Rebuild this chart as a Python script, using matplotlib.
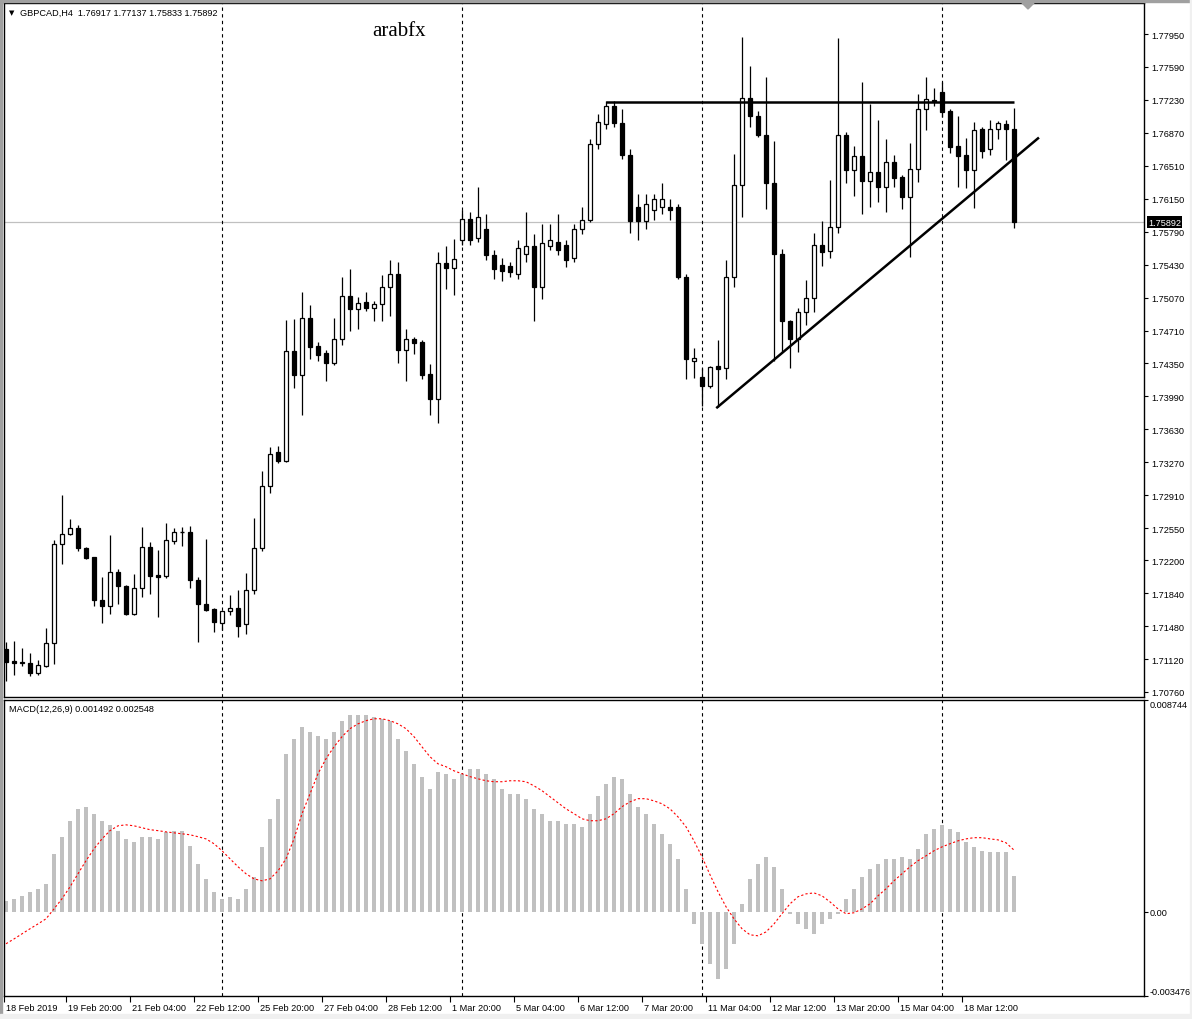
import matplotlib
matplotlib.use('Agg')
import matplotlib.pyplot as plt
from matplotlib.patches import Rectangle, Polygon
import matplotlib.transforms as mtransforms

# ---- data (H4 candles, GBPCAD) ----
opens = [1.7123, 1.7110, 1.7108, 1.7108, 1.7097, 1.7104, 1.7129, 1.7238, 1.7249, 1.7255,
         1.7233, 1.7223, 1.7177, 1.7170, 1.7207, 1.7192, 1.7161, 1.7190, 1.7234, 1.7204,
         1.7203, 1.7241, 1.7251, 1.7251, 1.7198, 1.7172, 1.7167, 1.7151, 1.7165, 1.7168,
         1.7150, 1.7187, 1.7233, 1.7301, 1.7338, 1.7328, 1.7449, 1.7422, 1.7485, 1.7454,
         1.7446, 1.7435, 1.7462, 1.7509, 1.7495, 1.7502, 1.7496, 1.7500, 1.7519, 1.7533,
         1.7450, 1.7462, 1.7458, 1.7423, 1.7396, 1.7545, 1.7539, 1.7570, 1.7593, 1.7572,
         1.7582, 1.7554, 1.7543, 1.7541, 1.7533, 1.7555, 1.7563, 1.7519, 1.7563, 1.7568,
         1.7564, 1.7550, 1.7582, 1.7592, 1.7675, 1.7697, 1.7716, 1.7698, 1.7663, 1.7606,
         1.7591, 1.7603, 1.7606, 1.7606, 1.7606, 1.7530, 1.7438, 1.7420, 1.7410, 1.7432,
         1.7430, 1.7529, 1.7630, 1.7725, 1.7705, 1.7685, 1.7632, 1.7555, 1.7481, 1.7462,
         1.7491, 1.7507, 1.7564, 1.7558, 1.7584, 1.7685, 1.7646, 1.7662, 1.7634, 1.7644,
         1.7628, 1.7655, 1.7639, 1.7617, 1.7647, 1.7713, 1.7723, 1.7732, 1.7711, 1.7673,
         1.7663, 1.7646, 1.7691, 1.7669, 1.7691, 1.7697, 1.76917]
highs = [1.7131, 1.7132, 1.7124, 1.7119, 1.7111, 1.7146, 1.7242, 1.7291, 1.7265, 1.7259,
         1.7234, 1.7224, 1.7202, 1.7247, 1.7210, 1.7193, 1.7205, 1.7256, 1.7240, 1.7231,
         1.7261, 1.7255, 1.7256, 1.7257, 1.7202, 1.7243, 1.7168, 1.7165, 1.7182, 1.7187,
         1.7206, 1.7266, 1.7318, 1.7344, 1.7345, 1.7482, 1.7484, 1.7513, 1.7499, 1.7458,
         1.7450, 1.7485, 1.7529, 1.7538, 1.7508, 1.7513, 1.7503, 1.7532, 1.7548, 1.7546,
         1.7473, 1.7464, 1.7461, 1.7434, 1.7557, 1.7563, 1.7571, 1.7603, 1.7600, 1.7628,
         1.7598, 1.7559, 1.7550, 1.7546, 1.7570, 1.7600, 1.7576, 1.7587, 1.7587, 1.7598,
         1.7570, 1.7587, 1.7606, 1.7680, 1.7708, 1.7722, 1.7722, 1.7713, 1.7669, 1.7620,
         1.7620, 1.7620, 1.7632, 1.7615, 1.7609, 1.7533, 1.7452, 1.7430, 1.7432, 1.7461,
         1.7548, 1.7664, 1.7792, 1.7760, 1.7711, 1.7748, 1.7678, 1.7560, 1.7482, 1.7496,
         1.7526, 1.7578, 1.7591, 1.7636, 1.7791, 1.7688, 1.7673, 1.7743, 1.7718, 1.7701,
         1.7680, 1.7663, 1.7641, 1.7676, 1.7730, 1.7748, 1.7736, 1.7743, 1.7713, 1.7705,
         1.7681, 1.7699, 1.7693, 1.7701, 1.7700, 1.7701, 1.77137]
lows = [1.7088, 1.7095, 1.7104, 1.7093, 1.7095, 1.7103, 1.7107, 1.7216, 1.7247, 1.7230,
        1.7221, 1.7170, 1.7151, 1.7161, 1.7172, 1.7160, 1.7160, 1.7180, 1.7183, 1.7158,
        1.7201, 1.7238, 1.7236, 1.7190, 1.7131, 1.7165, 1.7141, 1.7144, 1.7160, 1.7136,
        1.7139, 1.7183, 1.7230, 1.7293, 1.7326, 1.7327, 1.7408, 1.7379, 1.7440, 1.7438,
        1.7416, 1.7433, 1.7455, 1.7470, 1.7473, 1.7492, 1.7481, 1.7481, 1.7487, 1.7436,
        1.7416, 1.7445, 1.7418, 1.7379, 1.7370, 1.7516, 1.7510, 1.7564, 1.7564, 1.7568,
        1.7548, 1.7527, 1.7525, 1.7529, 1.7527, 1.7546, 1.7481, 1.7505, 1.7559, 1.7554,
        1.7540, 1.7546, 1.7576, 1.7590, 1.7669, 1.7691, 1.7693, 1.7658, 1.7578, 1.7570,
        1.7582, 1.7592, 1.7598, 1.7592, 1.7527, 1.7418, 1.7419, 1.7388, 1.7408, 1.7387,
        1.7418, 1.7519, 1.7595, 1.7693, 1.7682, 1.7604, 1.7438, 1.7447, 1.7430, 1.7447,
        1.7477, 1.7491, 1.7541, 1.7550, 1.7578, 1.7632, 1.7618, 1.7598, 1.7606, 1.7611,
        1.7600, 1.7628, 1.7604, 1.7551, 1.7633, 1.7690, 1.7716, 1.7704, 1.7665, 1.7628,
        1.7627, 1.7605, 1.7660, 1.7663, 1.7680, 1.7657, 1.75833]
closes = [1.7109, 1.7108, 1.7109, 1.7097, 1.7105, 1.7129, 1.7238, 1.7249, 1.7255, 1.7233,
          1.7222, 1.7177, 1.7170, 1.7207, 1.7192, 1.7161, 1.7190, 1.7234, 1.7203, 1.7202,
          1.7242, 1.7251, 1.7251, 1.7198, 1.7172, 1.7166, 1.7152, 1.7164, 1.7168, 1.7148,
          1.7187, 1.7233, 1.7301, 1.7336, 1.7328, 1.7449, 1.7422, 1.7485, 1.7453, 1.7444,
          1.7435, 1.7462, 1.7509, 1.7495, 1.7501, 1.7496, 1.7500, 1.7519, 1.7533, 1.7450,
          1.7462, 1.7457, 1.7422, 1.7396, 1.7545, 1.7539, 1.7549, 1.7593, 1.7570, 1.7595,
          1.7554, 1.7538, 1.7536, 1.7535, 1.7561, 1.7563, 1.7519, 1.7567, 1.7570, 1.7559,
          1.7548, 1.7582, 1.7592, 1.7675, 1.7699, 1.7716, 1.7698, 1.7663, 1.7591, 1.7591,
          1.7609, 1.7615, 1.7615, 1.7603, 1.7530, 1.7440, 1.7441, 1.7410, 1.7431, 1.7429,
          1.7529, 1.7630, 1.7725, 1.7705, 1.7685, 1.7632, 1.7555, 1.7481, 1.7462, 1.7491,
          1.7507, 1.7564, 1.7557, 1.7584, 1.7685, 1.7646, 1.7662, 1.7634, 1.7644, 1.7628,
          1.7655, 1.7638, 1.7617, 1.7648, 1.7713, 1.7724, 1.7722, 1.7710, 1.7672, 1.7662,
          1.7646, 1.7690, 1.7667, 1.7691, 1.7698, 1.7691, 1.75892]

macd_hist = [0.00045, 0.00054, 0.00066, 0.00083, 0.00095, 0.00116, 0.00240, 0.00310, 0.00376, 0.00425,
             0.00434, 0.00405, 0.00376, 0.00359, 0.00335, 0.00301, 0.00289, 0.00310, 0.00310, 0.00301,
             0.00330, 0.00335, 0.00335, 0.00273, 0.00198, 0.00136, 0.00083, 0.00054, 0.00062, 0.00054,
             0.00095, 0.00145, 0.00268, 0.00384, 0.00467, 0.00653, 0.00714, 0.00764, 0.00743, 0.00727,
             0.00714, 0.00743, 0.00789, 0.00814, 0.00814, 0.00814, 0.00805, 0.00797, 0.00789, 0.00714,
             0.00665, 0.00611, 0.00558, 0.00508, 0.00578, 0.00570, 0.00549, 0.00570, 0.00591, 0.00591,
             0.00570, 0.00549, 0.00508, 0.00487, 0.00487, 0.00467, 0.00425, 0.00405, 0.00376, 0.00376,
             0.00363, 0.00363, 0.00351, 0.00405, 0.00479, 0.00529, 0.00558, 0.00549, 0.00487, 0.00434,
             0.00405, 0.00363, 0.00322, 0.00281, 0.00219, 0.00095, -0.00050, -0.00132, -0.00215, -0.00277,
             -0.00235, -0.00132, 0.00033, 0.00136, 0.00198, 0.00227, 0.00186, 0.00095, -0.00008, -0.00050,
             -0.00070, -0.00091, -0.00050, -0.00029, -0.00008, 0.00054, 0.00095, 0.00145, 0.00178, 0.00198,
             0.00219, 0.00219, 0.00227, 0.00219, 0.00260, 0.00322, 0.00343, 0.00359, 0.00343, 0.00330,
             0.00289, 0.00268, 0.00252, 0.00248, 0.00248, 0.00248, 0.001492]
macd_signal = [-0.00132, -0.00112, -0.00091, -0.00070, -0.00050, -0.00029, 0.00012, 0.00054, 0.00103, 0.00157,
               0.00211, 0.00260, 0.00301, 0.00335, 0.00355, 0.00359, 0.00355, 0.00347, 0.00339, 0.00335,
               0.00330, 0.00326, 0.00322, 0.00318, 0.00310, 0.00301, 0.00281, 0.00252, 0.00219, 0.00186,
               0.00157, 0.00136, 0.00128, 0.00136, 0.00169, 0.00219, 0.00301, 0.00405, 0.00487, 0.00570,
               0.00632, 0.00681, 0.00723, 0.00756, 0.00776, 0.00789, 0.00797, 0.00797, 0.00789, 0.00776,
               0.00756, 0.00723, 0.00681, 0.00640, 0.00611, 0.00599, 0.00582, 0.00570, 0.00558, 0.00549,
               0.00541, 0.00537, 0.00537, 0.00541, 0.00541, 0.00537, 0.00520, 0.00500, 0.00475, 0.00450,
               0.00425, 0.00405, 0.00384, 0.00376, 0.00376, 0.00384, 0.00405, 0.00434, 0.00454, 0.00467,
               0.00467, 0.00458, 0.00446, 0.00425, 0.00392, 0.00351, 0.00293, 0.00227, 0.00153, 0.00083,
               0.00021, -0.00029, -0.00070, -0.00095, -0.00099, -0.00083, -0.00050, -0.00008, 0.00033, 0.00062,
               0.00074, 0.00078, 0.00066, 0.00041, 0.00012, -0.00008, -0.00004, 0.00012, 0.00033, 0.00066,
               0.00095, 0.00128, 0.00157, 0.00186, 0.00211, 0.00231, 0.00252, 0.00268, 0.00281, 0.00293,
               0.00301, 0.00306, 0.00306, 0.00301, 0.00297, 0.00285, 0.002548]

price_ticks = [1.77950, 1.77590, 1.77230, 1.76870, 1.76510, 1.76150, 1.75790, 1.75430, 1.75070,
               1.74710, 1.74350, 1.73990, 1.73630, 1.73270, 1.72910, 1.72550, 1.72200, 1.71840,
               1.71480, 1.71120, 1.70760]
time_labels = ['18 Feb 2019', '19 Feb 20:00', '21 Feb 04:00', '22 Feb 12:00', '25 Feb 20:00',
               '27 Feb 04:00', '28 Feb 12:00', '1 Mar 20:00', '5 Mar 04:00', '6 Mar 12:00',
               '7 Mar 20:00', '11 Mar 04:00', '12 Mar 12:00', '13 Mar 20:00', '15 Mar 04:00',
               '18 Mar 12:00']
week_starts = [27, 57, 87, 117]
resistance = 1.7721
trend_x = [88.9, 129.0]
trend_y = [1.7387, 1.7681]
last_price = 1.75892

W, H = 1192, 1020
FS = 6.6
plt.rcParams['font.family'] = ['Liberation Sans', 'DejaVu Sans']

fig = plt.figure(figsize=(W / 100, H / 100), dpi=100)


def box(x0, y0, x1, y1):
    return [x0 / W, 1 - y1 / H, (x1 - x0) / W, (y1 - y0) / H]


# window borders
fig.patches.append(Rectangle((0, 1 - 3 / H), 1, 3 / H, transform=fig.transFigure, color='#a0a0a0', zorder=0))
fig.patches.append(Rectangle((0, 0), 2 / W, 1, transform=fig.transFigure, color='#a0a0a0', zorder=0))
fig.patches.append(Rectangle((0, 0), 1, 5 / H, transform=fig.transFigure, color='#f0f0f0', zorder=0))
fig.patches.append(Rectangle((1 - 2 / W, 0), 2 / W, 1, transform=fig.transFigure, color='#f0f0f0', zorder=0))

ax = fig.add_axes(box(4, 4, 1144, 698))
ax2 = fig.add_axes(box(4, 701, 1144, 997))

n = len(closes)
idx = list(range(n))
bw = 0.58

for i in idx:
    o, h, l, c = opens[i], highs[i], lows[i], closes[i]
    ax.vlines(i, l, h, color='black', lw=0.9, zorder=2)
    lo, hi = min(o, c), max(o, c)
    if hi - lo < 0.00004:
        ax.hlines(o, i - bw / 2, i + bw / 2, color='black', lw=1.0, zorder=3)
    else:
        fc = 'white' if c >= o else 'black'
        ax.add_patch(Rectangle((i - bw / 2, lo), bw, hi - lo, facecolor=fc,
                               edgecolor='black', lw=0.9, zorder=3))

ax.axhline(last_price, color='#c0c0c0', lw=0.9, zorder=1)
ax.hlines(resistance, 75, 126, color='black', lw=1.8, zorder=4)
ax.plot(trend_x, trend_y, color='black', lw=1.8, zorder=4)

for a in (ax, ax2):
    for s in week_starts:
        a.axvline(s, color='black', lw=0.8, ls=(0, (3, 3)), zorder=1)
    a.set_xlim(-0.25, 142.25)
    for sp in a.spines.values():
        sp.set_linewidth(1.0)

ax.set_ylim(1.70705, 1.78289)
ax.yaxis.tick_right()
ax.set_yticks(price_ticks)
ax.set_yticklabels(['%.5f' % p for p in price_ticks], fontsize=FS)
ax.tick_params(axis='y', length=3, width=0.8, pad=2)
ax.set_xticks([])

tr = mtransforms.blended_transform_factory(ax.transAxes, ax.transData)
ax.text(1.0035, last_price, '%.5f' % last_price, transform=tr, fontsize=FS, color='white',
        va='center', ha='left', zorder=6,
        bbox=dict(facecolor='black', edgecolor='none', pad=1.0))

# MACD pane
ax2.bar(idx, macd_hist, width=0.5, color='#c0c0c0', zorder=2)
ax2.plot(idx, macd_signal, color='red', lw=0.8, ls=(0, (2, 2)), zorder=3)
ax2.set_ylim(-0.003476, 0.008744)
ax2.yaxis.tick_right()
ax2.set_yticks([-0.003476, 0.0, 0.008744])
ax2.set_yticklabels(['-0.003476', '0.00', '0.008744'], fontsize=FS)
ax2.tick_params(axis='y', length=3, width=0.8, pad=1)
lbls = ax2.get_yticklabels()
lbls[0].set_va('bottom')
lbls[2].set_va('top')

tick_pos = [8 * k - 0.5 for k in range(len(time_labels))]
tick_pos[0] = -0.2
ax2.set_xticks(tick_pos)
ax2.set_xticklabels(time_labels, fontsize=FS, ha='left')
ax2.tick_params(axis='x', length=4, width=0.8, pad=1)
offset = mtransforms.ScaledTranslation(2 / 100, 0, fig.dpi_scale_trans)
for t in ax2.get_xticklabels():
    t.set_transform(t.get_transform() + offset)

# header texts
fig.text(9 / W, 1 - 13 / H, '\u25bc', fontsize=5, va='center', ha='left', family='DejaVu Sans')
fig.text(20 / W, 1 - 13 / H, 'GBPCAD,H4  1.76917 1.77137 1.75833 1.75892', fontsize=FS, va='center')
fig.text(372 / W, 1 - 32 / H, 'arabfx', family='Liberation Serif', fontsize=15, va='center')
fig.text(9 / W, 1 - 710 / H, 'MACD(12,26,9) 0.001492 0.002548', fontsize=FS, va='center')
fig.patches.append(Polygon([[1022 / W, 1 - 4 / H], [1034 / W, 1 - 4 / H], [1028 / W, 1 - 10 / H]],
                           closed=True, transform=fig.transFigure, color='#a0a0a0', zorder=5))

fig.savefig('out.png', dpi=100)
